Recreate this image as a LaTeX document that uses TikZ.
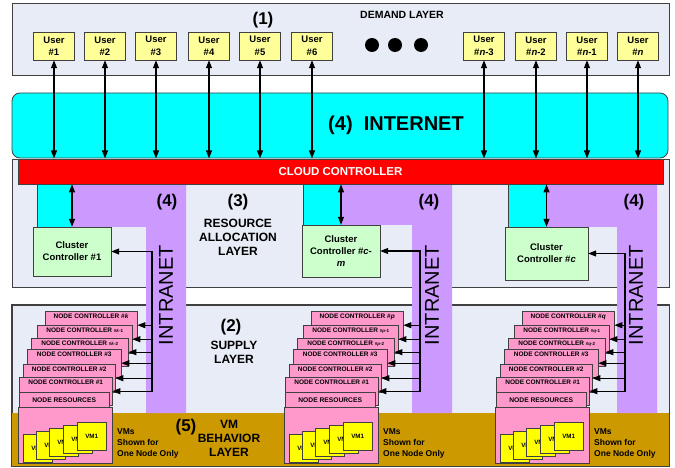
\documentclass[tikz,border=0pt]{standalone}
\usepackage{fontspec}
\setmainfont{Liberation Sans}
\usepackage{xcolor}
\usepackage{tikz}
\usetikzlibrary{arrows.meta, positioning}

\definecolor{layerbg}{RGB}{232,236,246}
\definecolor{edgegray}{RGB}{64,64,64}
\definecolor{useryellow}{RGB}{255,255,153}
\definecolor{vmyellow}{RGB}{255,255,0}
\definecolor{netcyan}{RGB}{0,255,255}
\definecolor{cloudred}{RGB}{255,0,0}
\definecolor{intrapurple}{RGB}{204,153,255}
\definecolor{clustergreen}{RGB}{204,255,204}
\definecolor{nodepink}{RGB}{255,153,204}
\definecolor{vmgold}{RGB}{204,153,0}

\begin{document}
\begin{tikzpicture}[x=1pt, y=-1pt,
            layer/.style={draw=edgegray, fill=layerbg, line width=0.8pt, inner sep=0pt, minimum width=657pt},
            user/.style={draw=edgegray, fill=useryellow, minimum width=41pt, minimum height=28pt, inner sep=0pt, align=center, font=\fontsize{9.5}{12.5}\selectfont\bfseries},
            userdots/.style={circle, fill=black, minimum size=14pt, inner sep=0pt},
            cluster/.style={draw=edgegray, fill=clustergreen, inner sep=0pt, align=center, font=\fontsize{9.5}{12}\selectfont\bfseries},
            nodectrl/.style={draw=edgegray, fill=nodepink, anchor=north west, inner xsep=0pt, inner ysep=2pt, text height=5pt, text depth=19pt, font=\fontsize{6.5}{7}\selectfont\bfseries},
            noderes/.style={draw=edgegray, fill=nodepink, anchor=north west, minimum width=90pt, minimum height=15pt, inner sep=0pt, font=\fontsize{6.7}{7}\selectfont\bfseries},
            vmhold/.style={draw=edgegray, fill=nodepink, anchor=north west, minimum width=94pt, minimum height=56pt, inner sep=0pt},
            vm/.style={draw=edgegray, fill=vmyellow, anchor=north west, minimum width=29pt, minimum height=28pt, inner sep=0pt, font=\fontsize{6.2}{7}\selectfont\bfseries},
            vmnote/.style={anchor=west, align=left, inner sep=0pt, font=\fontsize{8.5}{11}\selectfont\bfseries},
            numlbl/.style={inner sep=0pt, font=\fontsize{17}{20}\selectfont\bfseries},
            layername/.style={align=center, inner sep=0pt, font=\fontsize{12}{14}\selectfont\bfseries},
            intranet/.style={rotate=90, inner sep=0pt, font=\fontsize{20}{24}\selectfont},
            dbl/.style={{Triangle[length=8pt,width=6pt]}-{Triangle[length=8pt,width=6pt]}, line width=1.1pt},
            arr/.style={-{Triangle[length=8pt,width=6pt]}, line width=1.1pt}
        ]
        \useasboundingbox (0,0) rectangle (675,468);

        % Layers
        \node[layer, minimum height=72pt] (demand) at (340.5,39) {};
        \node[layer, minimum height=128pt] (resource) at (340.5,223) {};
        \node[layer, minimum height=161pt] (supply) at (340.5,385.5) {};
        \fill[vmgold] (12,413) rectangle (669,466);
        \draw[edgegray, line width=0.8pt] (supply.north west) rectangle (supply.south east);
        \node[draw=edgegray, fill=netcyan, line width=0.8pt, rounded corners=8pt, minimum width=656pt, minimum height=65pt] (inet) at (340,125.5) {};

        % Clusters (manual layout)
        \node[cluster, minimum width=78pt, minimum height=49pt] (cc1) at (72,251.5) {Cluster\\Controller \#1};
        \node[cluster, minimum width=78pt, minimum height=52pt] (cc2) at (341,251) {Cluster\\Controller \#\textit{c}-\\\textit{m}};
        \node[cluster, minimum width=83pt, minimum height=53pt] (cc3) at (546.5,253.5) {Cluster\\Controller \#\textit{c}};

        % Intranet bands
        \fill[netcyan] (37,184) rectangle (cc1.north);
        \fill[netcyan] (303,184) rectangle (cc2.north);
        \fill[netcyan] (508,184) rectangle (cc3.north);
        \draw[edgegray] (37,184) -- (37,227);
        \draw[edgegray] (303,184) -- (303,225);
        \draw[edgegray] (508,184) -- (508,227);
        \fill[intrapurple] (72,184) -| (186,413) -- (146,413) |- (cc1.north) -- cycle;
        \fill[intrapurple] (341,184) -| (452,413) -- (412,413) |- (cc2.north) -- cycle;
        \fill[intrapurple] (546.5,184) -| (657,413) -- (617,413) |- (cc3.north) -- cycle;

        \node[draw=edgegray, fill=cloudred, line width=0.8pt, minimum width=645pt, minimum height=25pt, text=white, font=\fontsize{11.5}{13}\selectfont\bfseries] (cloud) at (340.5,171.5) {CLOUD CONTROLLER};

        % Users
        \foreach \x/\ulab [count=\i] in {54/1, 105/2, 156/3, 209/4, 260/5, 312/6, 484/{\textit{n}-3}, 536/{\textit{n}-2}, 587/{\textit{n}-1}, 638/{\textit{n}}}
            \node[user] (u\i) at (\x,46) {User\\\#\ulab};
        \node[userdots] (d1) at (372,45) {};
        \node[userdots] (d2) at (395,45) {};
        \node[userdots] (d3) at (421,45) {};

        % Node stacks
        \coordinate (bus1) at (152,0);
        \coordinate (bus2) at (420,0);
        \coordinate (bus3) at (625,0);
        \foreach \sx/\ltr/\bus/\clu in {19/k/bus1/cc1, 285/p/bus2/cc2, 496/q/bus3/cc3} {
            \foreach \dx/\ty/\w/\n/\tg in {26/311/92/6/{\#\textit{\ltr}}, 18/325/95/5/{{\fontsize{4.5}{5}\selectfont\#\textit{\ltr}-1}}, 12/338/97/4/{{\fontsize{4.5}{5}\selectfont\#\textit{\ltr}-2}}, 8/349/94/3/\#3, 4/364/92/2/\#2, 0/377/93/1/\#1}
                \node[nodectrl, minimum width=\w pt] (nc\ltr\n) at (\sx+\dx,\ty) {NODE CONTROLLER \tg};
            \node[noderes] (res\ltr) at (\sx,392) {NODE RESOURCES};
            \node[vmhold] (vmc\ltr) at (\sx-1,407) {};
            \foreach \vx/\vy [count=\j] in {4/434, 17/431, 30/428, 44/425, 58/422}
                \node[vm] (vm\ltr\j) at (\sx+\vx,\vy) {VM1};
            \node[vmnote] (vmn\ltr) at (\sx+98,443) {VMs\\Shown for\\One Node Only};

            \draw[dbl] (\clu.east) -| (nc\ltr1.east -| \bus) -- (nc\ltr1.east);
            \foreach \n in {2,...,6}
                \draw[arr] (nc\ltr\n.east -| \bus) -- (nc\ltr\n.east);
            \draw[dbl] (cloud.south -| \clu) -- (\clu.north);
        }

        % Edges
        \foreach \i in {1,...,10}
            \draw[dbl] (u\i.south) -- (u\i.south |- inet.south);

        % Labels
        \node[numlbl] (l1) at (263,20) {(1)};
        \node[inner sep=0pt, font=\fontsize{10.5}{12}\selectfont\bfseries] (ldemand) at (402,15) {DEMAND LAYER};
        \node[inner sep=0pt, font=\fontsize{20}{24}\selectfont\bfseries] (linet) at (396,125) {(4)\ \ INTERNET};
        \node[numlbl] (l3) at (238,202) {(3)};
        \node[layername] (lres) at (238,237) {RESOURCE\\ALLOCATION\\LAYER};
        \node[numlbl] (l4a) at (167,202) {(4)};
        \node[numlbl] (l4b) at (429,202) {(4)};
        \node[numlbl] (l4c) at (634,202) {(4)};
        \node[intranet] (intra1) at (166,295) {INTRANET};
        \node[intranet] (intra2) at (432,295) {INTRANET};
        \node[intranet] (intra3) at (636,295) {INTRANET};
        \node[numlbl] (l2) at (231,327) {(2)};
        \node[layername] (lsup) at (234,352) {SUPPLY\\LAYER};
        \node[numlbl] (l5) at (186,427) {(5)};
        \node[layername] (lvm) at (229,438) {VM\\BEHAVIOR\\LAYER};

    \end{tikzpicture}
\end{document}
